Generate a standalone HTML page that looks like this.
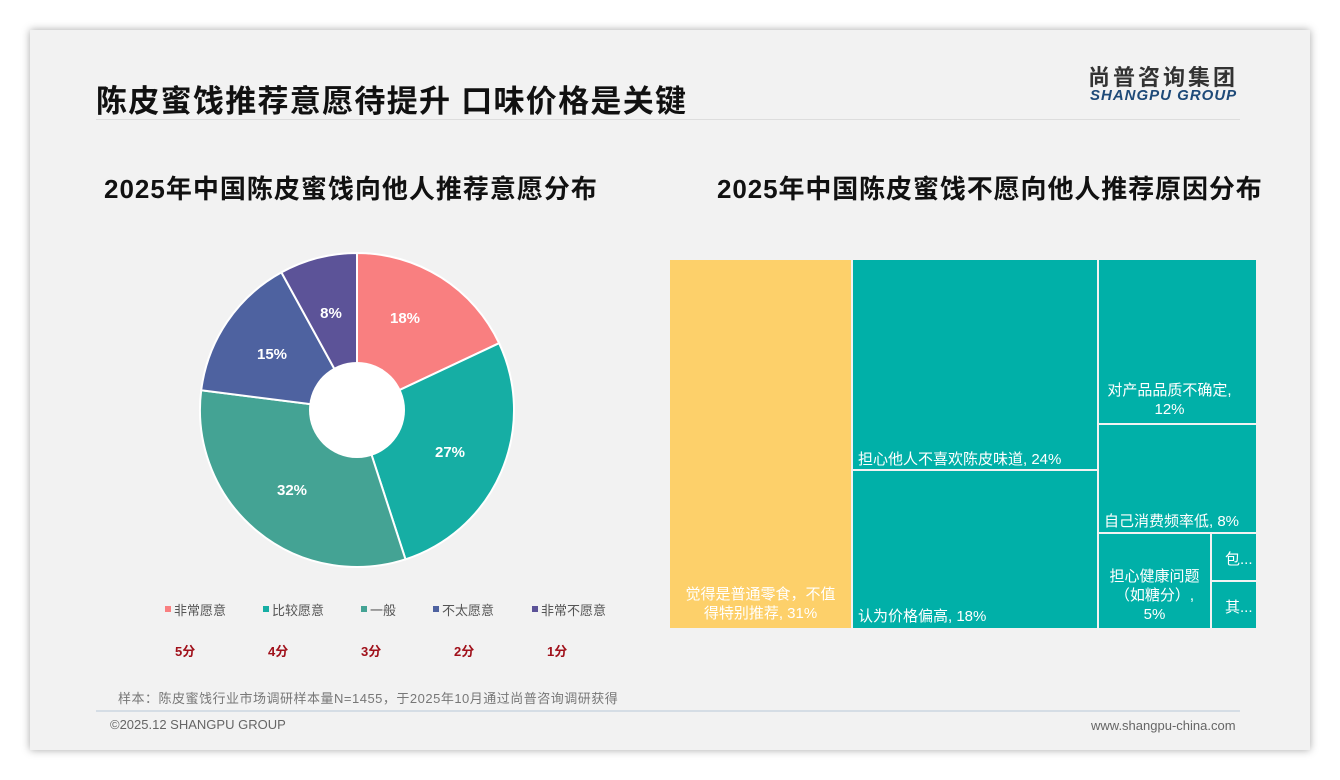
<!DOCTYPE html>
<html><head><meta charset="utf-8"><style>
body{margin:0;width:1340px;height:780px;background:#fff;font-family:"Liberation Sans","Noto Sans CJK SC",sans-serif;position:relative;overflow:hidden}
.card{position:absolute;left:30px;top:30px;width:1280px;height:720px;background:#f2f2f2;box-shadow:0 0 8px rgba(0,0,0,.35)}
.a{position:absolute;white-space:nowrap}
.t{position:absolute;color:#fff;font-size:15px;line-height:19px;text-align:center}
</style></head><body>
<div class="card"></div>
<div class="a" style="left:96px;top:76px;font-size:31px;font-weight:bold;color:#111;letter-spacing:1.3px">陈皮蜜饯推荐意愿待提升 口味价格是关键</div>
<div class="a" style="left:1088px;top:60px;font-size:22px;font-weight:bold;color:#333;letter-spacing:3px">尚普咨询集团</div>
<div class="a" style="left:1090px;top:87px;font-size:15px;font-weight:bold;font-style:italic;color:#1e4a78;letter-spacing:1px">SHANGPU GROUP</div>
<div class="a" style="left:96px;top:119px;width:1144px;height:1px;background:#ddd"></div>
<div class="a" style="left:104px;top:169px;font-size:26px;font-weight:bold;color:#111;letter-spacing:1px">2025年中国陈皮蜜饯向他人推荐意愿分布</div>
<div class="a" style="left:717px;top:169px;font-size:26px;font-weight:bold;color:#111;letter-spacing:0.9px">2025年中国陈皮蜜饯不愿向他人推荐原因分布</div>
<svg class="a" style="left:0;top:0" width="1340" height="780">
<g stroke="#fff" stroke-width="2">
<path d="M357,410 L357,253 A157,157 0 0 1 499.1,343.2Z" fill="#f97f80"/>
<path d="M357,410 L499.1,343.2 A157,157 0 0 1 405.5,559.3Z" fill="#16aea4"/>
<path d="M357,410 L405.5,559.3 A157,157 0 0 1 201.2,390.3Z" fill="#44a394"/>
<path d="M357,410 L201.2,390.3 A157,157 0 0 1 281.4,272.4Z" fill="#4e62a0"/>
<path d="M357,410 L281.4,272.4 A157,157 0 0 1 357,253Z" fill="#5c5398"/>
</g>
<circle cx="357" cy="410" r="48" fill="#fff"/>
<g fill="#fff" font-size="15" font-weight="bold" text-anchor="middle">
<text x="405" y="323">18%</text><text x="450" y="457">27%</text><text x="292" y="495">32%</text><text x="272" y="359">15%</text><text x="331" y="318">8%</text>
</g>
<g font-size="13" fill="#555">
<rect x="165" y="606" width="6" height="6" fill="#f97f80"/><text x="174" y="615">非常愿意</text>
<rect x="263" y="606" width="6" height="6" fill="#16aea4"/><text x="272" y="615">比较愿意</text>
<rect x="361" y="606" width="6" height="6" fill="#44a394"/><text x="370" y="615">一般</text>
<rect x="433" y="606" width="6" height="6" fill="#4e62a0"/><text x="442" y="615">不太愿意</text>
<rect x="532" y="606" width="6" height="6" fill="#5c5398"/><text x="541" y="615">非常不愿意</text>
</g>
<g font-size="13" font-weight="bold" fill="#a0101a">
<text x="175" y="656">5分</text><text x="268" y="656">4分</text><text x="361" y="656">3分</text><text x="454" y="656">2分</text><text x="547" y="656">1分</text>
</g>
<rect x="670" y="260" width="181" height="368" fill="#fdd06a"/>
<g fill="#00b0a8">
<rect x="853" y="260" width="244" height="209"/>
<rect x="853" y="471" width="244" height="157"/>
<rect x="1099" y="260" width="157" height="163"/>
<rect x="1099" y="425" width="157" height="107"/>
<rect x="1099" y="534" width="111" height="94"/>
<rect x="1212" y="534" width="44" height="46"/>
<rect x="1212" y="582" width="44" height="46"/>
</g>
<line x1="96" y1="711" x2="1240" y2="711" stroke="#b8c8d8"/>
</svg>
<div class="t" style="left:670px;top:585px;width:181px">觉得是普通零食，不值<br>得特别推荐, 31%</div>
<div class="a" style="left:858px;top:448px;color:#fff;font-size:15px">担心他人不喜欢陈皮味道, 24%</div>
<div class="a" style="left:858px;top:605px;color:#fff;font-size:15px">认为价格偏高, 18%</div>
<div class="t" style="left:1099px;top:381px;width:141px">对产品品质不确定,<br>12%</div>
<div class="a" style="left:1104px;top:510px;color:#fff;font-size:15px">自己消费频率低, 8%</div>
<div class="t" style="left:1099px;top:567px;width:111px">担心健康问题<br>（如糖分）,<br>5%</div>
<div class="a" style="left:1225px;top:548px;color:#fff;font-size:15px">包...</div>
<div class="a" style="left:1225px;top:596px;color:#fff;font-size:15px">其...</div>
<div class="a" style="left:118px;top:688px;font-size:13px;color:#777;letter-spacing:0.5px">样本：陈皮蜜饯行业市场调研样本量N=1455，于2025年10月通过尚普咨询调研获得</div>
<div class="a" style="left:110px;top:717px;font-size:13px;color:#666">©2025.12 SHANGPU GROUP</div>
<div class="a" style="left:1091px;top:718px;font-size:13px;color:#666">www.shangpu-china.com</div>
</body></html>
